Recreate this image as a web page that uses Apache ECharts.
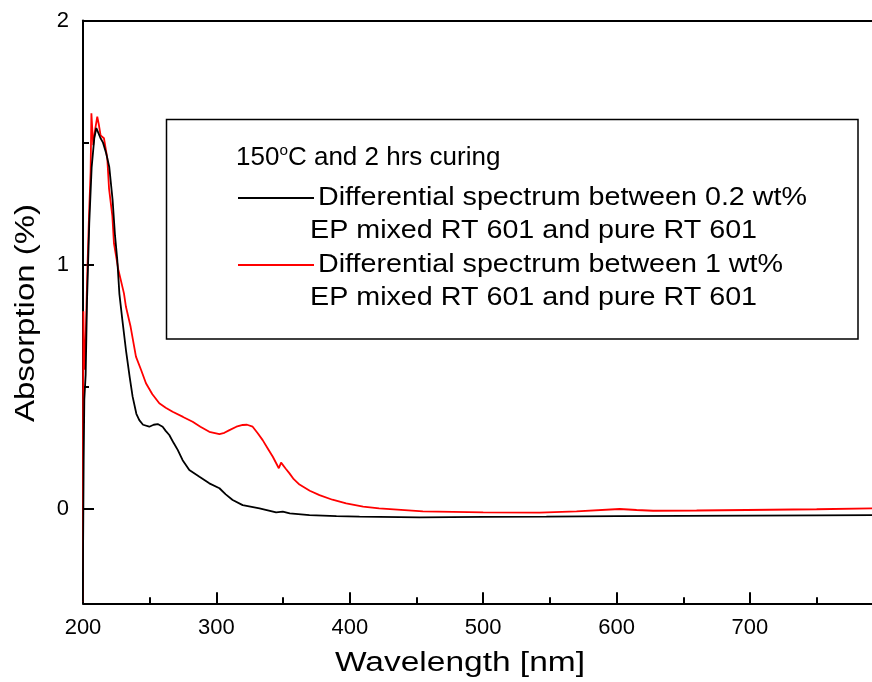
<!DOCTYPE html>
<html>
<head>
<meta charset="utf-8">
<script src="https://cdn.jsdelivr.net/npm/echarts@6/dist/echarts.min.js"></script>
<style>
html,body{margin:0;padding:0;background:#fff;}
#chart{width:872px;height:682px;}
</style>
</head>
<body>
<div id="chart"></div>
<script>
// ---- data ----
var blackWl = [199.8,200.5,201.0,202.0,203.0,204.7,206.5,208.5,210.0,211.5,213.0,215.0,217.2,219.7,222.2,224.0,225.7,227.3,229.5,232.2,235.0,237.2,240.0,242.2,245.0,249.7,253.0,256.0,259.7,262.0,264.7,268.0,271.0,274.7,279.7,287.3,294.7,302.3,307.0,312.2,319.7,332.3,344.8,349.8,355.0,369.8,390.0,407.3,452.4,500,547.4,600,650,700,750,792];
var blackAbs = [-0.38,0.2,0.45,0.55,0.85,1.17,1.40,1.52,1.56,1.54,1.52,1.50,1.46,1.40,1.265,1.12,1.02,0.88,0.774,0.651,0.54,0.46,0.39,0.364,0.345,0.337,0.345,0.348,0.337,0.32,0.303,0.27,0.242,0.2,0.16,0.132,0.105,0.085,0.06,0.037,0.016,0.003,-0.014,-0.011,-0.018,-0.025,-0.029,-0.031,-0.034,-0.032,-0.031,-0.029,-0.028,-0.027,-0.026,-0.025];
var redWl = [199.6,200.1,200.3,200.7,201.1,202.0,203.3,204.5,205.7,206.3,207.0,207.7,209.0,210.7,212.0,213.2,215.7,218.2,219.5,222.0,223.2,226.5,230.7,232.2,235.7,239.7,243.5,247.2,252.0,257.2,262.0,267.2,275.0,282.2,288.0,294.7,302.3,306.0,309.8,315.0,319.7,323.0,327.2,331.0,334.7,338.5,342.3,346.8,348.5,349.5,352.0,354.8,358.0,362.3,370.0,377.3,387.0,397.3,410.0,422.0,454.8,500,542.3,570,602.3,615,627.4,660,697.5,750,792];
var redAbs = [-0.38,0.3,0.81,0.65,0.57,0.7,0.98,1.20,1.38,1.62,1.55,1.49,1.55,1.606,1.57,1.53,1.518,1.436,1.313,1.20,1.088,0.98,0.883,0.828,0.746,0.624,0.57,0.515,0.47,0.433,0.415,0.398,0.377,0.357,0.337,0.316,0.307,0.312,0.323,0.337,0.344,0.345,0.337,0.31,0.282,0.248,0.214,0.167,0.19,0.184,0.165,0.146,0.122,0.1,0.075,0.057,0.038,0.023,0.01,0.003,-0.01,-0.014,-0.015,-0.01,0.0,-0.004,-0.007,-0.006,-0.004,-0.001,0.003];
var xMajorTicks = [200,300,400,500,600,700];
var xMinorTicks = [250,350,450,550,650,750];
var yMajorTicks = [0,1,2];
var yMinorTicks = [0.5,1.5];
var seriesNames = ['Differential spectrum between 0.2 wt%', 'Differential spectrum between 1 wt%'];
var legendTitle = '150{sup|o}C and 2 hrs curing';
var legendSub = 'EP mixed RT 601 and pure RT 601';
var xName = 'Wavelength [nm]';
var yName = 'Absorption (%)';

function pairs(xs, ys){ return xs.map(function(x,i){ return [x, ys[i]]; }); }

var X_MIN = 200, X_MAX = 791.5, Y_MIN = -0.386, Y_MAX = 2;
var FONT = 'Liberation Sans, Arial, sans-serif';
var LEG_FONT = '25.5px ' + FONT;

var chart = echarts.init(document.getElementById('chart'), null, {renderer:'canvas'});
function legText(t, x, y, sx){
  return {type:'text', x:x, y:y, scaleX:sx, z:10, style:{text:t, font:LEG_FONT, fill:'#000', verticalAlign:'middle', textAlign:'left'}};
}
var option = {
  animation:false,
  backgroundColor:'#fff',
  grid:{left:83, right:0, top:20.5, bottom:78.7, containLabel:false},
  xAxis:[
    {type:'value', position:'bottom', min:X_MIN, max:X_MAX,
     axisLine:{show:true, onZero:false, lineStyle:{color:'#000', width:2}},
     axisTick:{show:true, inside:true, length:11, customValues:xMajorTicks, lineStyle:{color:'#000', width:2}},
     axisLabel:{show:true, customValues:xMajorTicks, margin:14, fontSize:22, color:'#000', fontFamily:FONT},
     splitLine:{show:false}},
    {type:'value', position:'bottom', min:X_MIN, max:X_MAX,
     axisLine:{show:false, onZero:false},
     axisTick:{show:true, inside:true, length:6, customValues:xMinorTicks, lineStyle:{color:'#000', width:2}},
     axisLabel:{show:false}, splitLine:{show:false}},
    {type:'value', position:'top', min:X_MIN, max:X_MAX,
     axisLine:{show:true, onZero:false, lineStyle:{color:'#000', width:2}},
     axisTick:{show:false}, axisLabel:{show:false}, splitLine:{show:false}}
  ],
  yAxis:[
    {type:'value', position:'left', min:Y_MIN, max:Y_MAX,
     axisLine:{show:true, onZero:false, lineStyle:{color:'#000', width:2}},
     axisTick:{show:true, inside:true, length:11, customValues:yMajorTicks, lineStyle:{color:'#000', width:2}},
     axisLabel:{show:true, customValues:yMajorTicks, margin:14, fontSize:22, color:'#000', fontFamily:FONT},
     splitLine:{show:false}},
    {type:'value', position:'left', min:Y_MIN, max:Y_MAX,
     axisLine:{show:false, onZero:false},
     axisTick:{show:true, inside:true, length:6, customValues:yMinorTicks, lineStyle:{color:'#000', width:2}},
     axisLabel:{show:false}, splitLine:{show:false}}
  ],
  series:[
    {name:seriesNames[0], type:'line', xAxisIndex:0, yAxisIndex:0, data:pairs(blackWl, blackAbs), showSymbol:false, symbol:'none', smooth:false,
     lineStyle:{color:'#000', width:1.8}, itemStyle:{color:'#000'}, clip:true, z:3},
    {name:seriesNames[1], type:'line', xAxisIndex:0, yAxisIndex:0, data:pairs(redWl, redAbs), showSymbol:false, symbol:'none', smooth:false,
     lineStyle:{color:'#ff0000', width:1.8}, itemStyle:{color:'#ff0000'}, clip:true, z:2}
  ],
  graphic:[
    {type:'rect', shape:{x:166.5, y:119.5, width:691.5, height:219.5}, style:{fill:'none', stroke:'#000', lineWidth:1.5}, z:10},
    {type:'text', x:236, y:158, scaleX:1.02, z:10, style:{text:legendTitle, font:LEG_FONT, fill:'#000', verticalAlign:'middle', textAlign:'left',
      rich:{sup:{fontSize:15, fontFamily:FONT, verticalAlign:'top', padding:[0,0,15,0]}}}},
    {type:'line', shape:{x1:238, y1:198, x2:314, y2:198}, style:{stroke:'#000', lineWidth:1.8}, z:10},
    legText(seriesNames[0], 318, 198, 1.125),
    legText(legendSub, 310, 231, 1.125),
    {type:'line', shape:{x1:238, y1:265, x2:314, y2:265}, style:{stroke:'#ff0000', lineWidth:1.8}, z:10},
    legText(seriesNames[1], 318, 265, 1.125),
    legText(legendSub, 310, 298, 1.125),
    {type:'text', x:460, y:664, scaleX:1.24, style:{text:xName, font:'27px ' + FONT, fill:'#000', textAlign:'center', verticalAlign:'middle'}},
    {type:'text', x:27, y:313, rotation:Math.PI/2, scaleX:1.22, style:{text:yName, font:'27px ' + FONT, fill:'#000', textAlign:'center', verticalAlign:'middle'}}
  ]
};
chart.setOption(option);
</script>
</body>
</html>
